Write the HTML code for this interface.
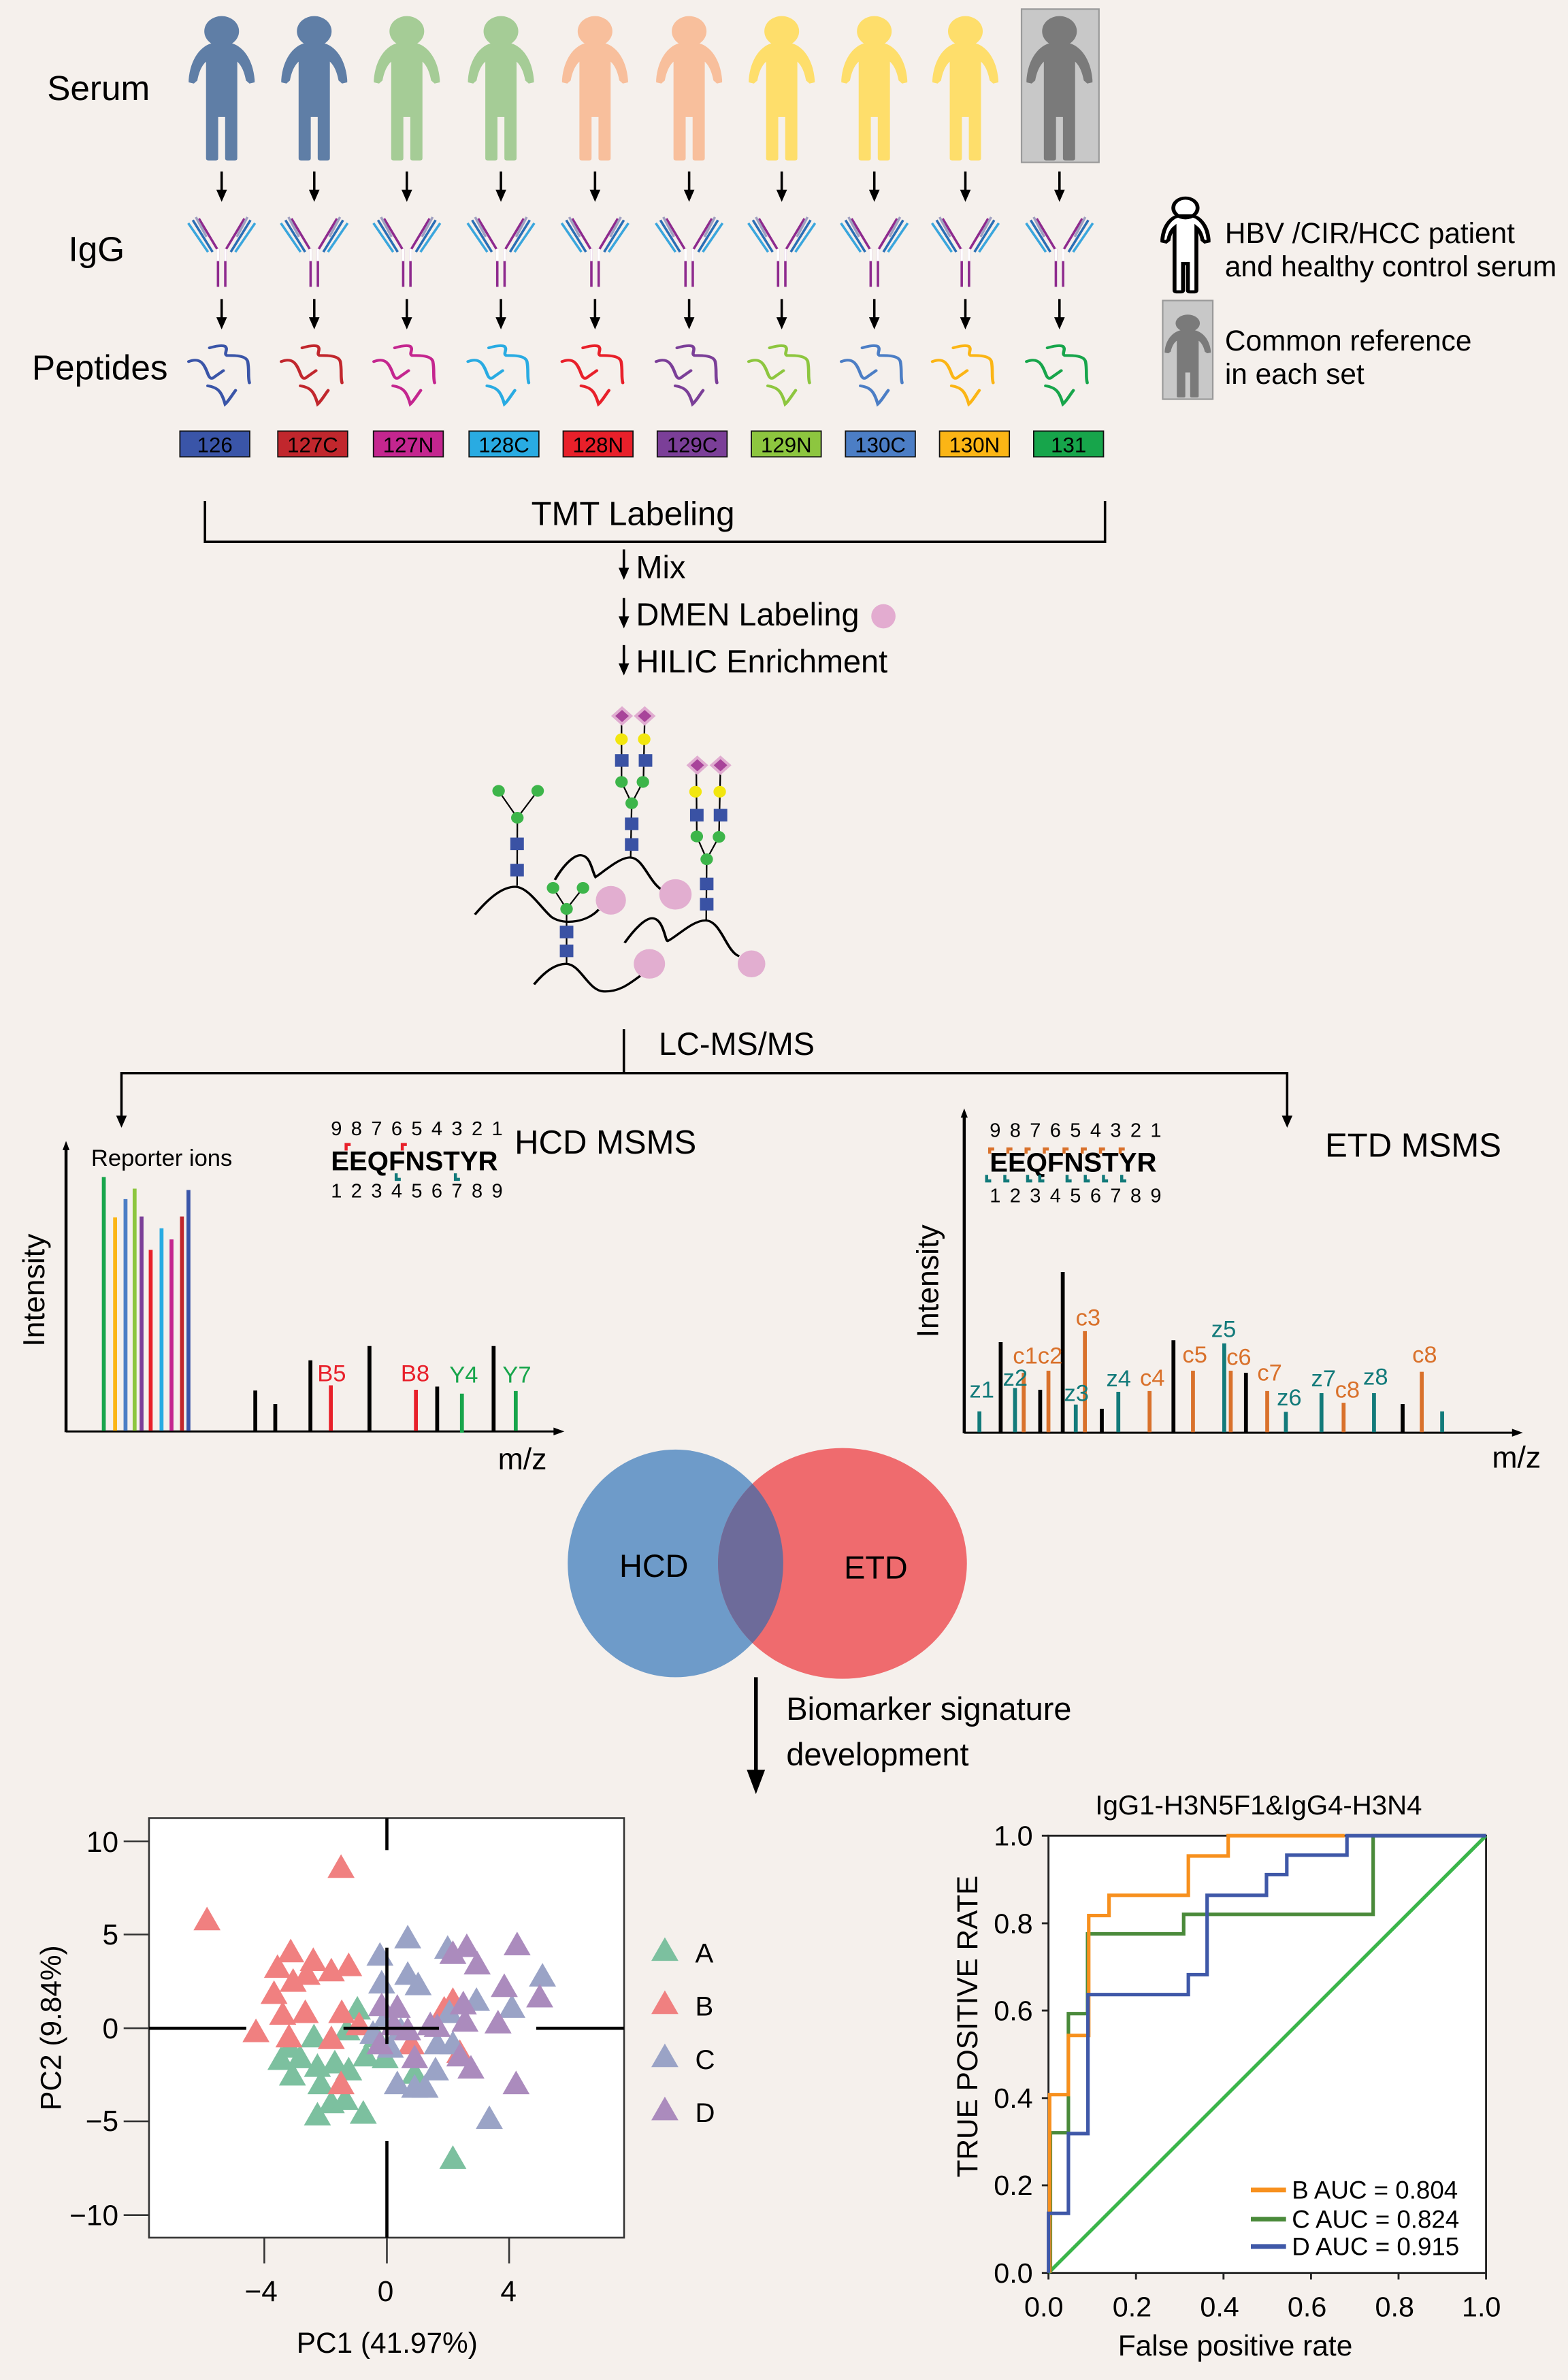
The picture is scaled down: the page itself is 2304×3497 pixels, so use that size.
<!DOCTYPE html>
<html><head><meta charset="utf-8"><style>
html,body{margin:0;padding:0;background:#f5f0ec;}
svg{display:block;}
text{font-family:"Liberation Sans Narrow","Liberation Sans",sans-serif;}
</style></head><body>
<svg width="2304" height="3497" viewBox="0 0 1033 1568" xmlns="http://www.w3.org/2000/svg" fill="#000">
<defs>
<path id="person" d="M-30,40 L30,40 C60,50 90,90 95,160 L95,168 L80,172 L70,162 C65,130 55,110 45,100 L45,418 Q45,425 38,425 L17,425 Q10,425 10,418 L10,282 L-10,282 L-10,418 Q-10,425 -17,425 L-38,425 Q-45,425 -45,418 L-45,100 C-55,110 -65,130 -70,162 L-80,172 L-95,168 L-95,160 C-90,90 -60,50 -30,40 Z M0,-50 A50,50 0 1,1 0,50 A50,50 0 1,1 0,-50 Z"/>
<g id="pep" fill="none" stroke-width="9" stroke-linecap="round">
<path d="M-95,-40 C-60,-55 -50,-30 -40,0 C-35,15 -30,20 -20,10 L5,-10"/>
<path d="M-35,-85 C-20,-90 0,-95 10,-90 C20,-80 5,-65 15,-60 C40,-60 70,-60 75,-40 C80,-10 75,10 80,30"/>
<path d="M-40,40 C-10,45 0,60 10,100 C20,90 30,70 40,55"/>
</g>
<g id="arr"><line x1="0" y1="0" x2="0" y2="14" stroke="#000" stroke-width="1.6"/><polygon points="-3.5,12 3.5,12 0,20" fill="#000"/></g>
<g id="igg" fill="none" stroke-width="1.6">
<line x1="-2.4" y1="164" x2="-2.4" y2="189" stroke="#8e2a8e"/><line x1="2.4" y1="164" x2="2.4" y2="189" stroke="#8e2a8e"/>
<line x1="-2.4" y1="164" x2="-2.4" y2="172" stroke="#fff"/><line x1="2.4" y1="164" x2="2.4" y2="172" stroke="#fff"/>
<line x1="-3" y1="164" x2="-15" y2="144" stroke="#8e2a8e"/><line x1="-6" y1="166" x2="-19" y2="145" stroke="#2a6eb5"/><line x1="-9" y1="166" x2="-22" y2="147" stroke="#3aa6dd"/><line x1="-10" y1="156" x2="-17" y2="143" stroke="#a0a0c0"/>
<line x1="3" y1="164" x2="15" y2="144" stroke="#8e2a8e"/><line x1="6" y1="166" x2="19" y2="145" stroke="#2a6eb5"/><line x1="9" y1="166" x2="22" y2="147" stroke="#3aa6dd"/><line x1="10" y1="156" x2="17" y2="143" stroke="#a0a0c0"/>
</g>
<polygon id="tri" points="0,-38 -39,30 39,30"/>
</defs>
<rect width="1033" height="1568" fill="#f5f0ec"/>

<text x="31" y="66" font-size="23">Serum</text>
<text x="45" y="172" font-size="23">IgG</text>
<text x="21" y="250" font-size="23">Peptides</text>

<rect x="673" y="6" width="51" height="101" fill="#c8c8c8" stroke="#9a9a9a" stroke-width="1"/>
<g transform="translate(146,20.6) scale(0.2288,0.2002)"><use href="#person" fill="#5f7ea6"/></g>
<g transform="translate(207,20.6) scale(0.2288,0.2002)"><use href="#person" fill="#5f7ea6"/></g>
<g transform="translate(268,20.6) scale(0.2288,0.2002)"><use href="#person" fill="#a5cc96"/></g>
<g transform="translate(330,20.6) scale(0.2288,0.2002)"><use href="#person" fill="#a5cc96"/></g>
<g transform="translate(392,20.6) scale(0.2288,0.2002)"><use href="#person" fill="#f8bf9c"/></g>
<g transform="translate(454,20.6) scale(0.2288,0.2002)"><use href="#person" fill="#f8bf9c"/></g>
<g transform="translate(515,20.6) scale(0.2288,0.2002)"><use href="#person" fill="#fede6b"/></g>
<g transform="translate(576,20.6) scale(0.2288,0.2002)"><use href="#person" fill="#fede6b"/></g>
<g transform="translate(636,20.6) scale(0.2288,0.2002)"><use href="#person" fill="#fede6b"/></g>
<g transform="translate(698,20.6) scale(0.2288,0.2002)"><use href="#person" fill="#7a7a7a"/></g>

<g>
<use href="#arr" x="146" y="113"/><use href="#arr" x="207" y="113"/><use href="#arr" x="268" y="113"/><use href="#arr" x="330" y="113"/><use href="#arr" x="392" y="113"/><use href="#arr" x="454" y="113"/><use href="#arr" x="515" y="113"/><use href="#arr" x="576" y="113"/><use href="#arr" x="636" y="113"/><use href="#arr" x="698" y="113"/>
<use href="#arr" x="146" y="197"/><use href="#arr" x="207" y="197"/><use href="#arr" x="268" y="197"/><use href="#arr" x="330" y="197"/><use href="#arr" x="392" y="197"/><use href="#arr" x="454" y="197"/><use href="#arr" x="515" y="197"/><use href="#arr" x="576" y="197"/><use href="#arr" x="636" y="197"/><use href="#arr" x="698" y="197"/>
</g>
<g>
<use href="#igg" x="146"/><use href="#igg" x="207"/><use href="#igg" x="268"/><use href="#igg" x="330"/><use href="#igg" x="392"/><use href="#igg" x="454"/><use href="#igg" x="515"/><use href="#igg" x="576"/><use href="#igg" x="636"/><use href="#igg" x="698"/>
</g>
<g transform="translate(146,246.2) scale(0.2288,0.2002)"><use href="#pep" stroke="#3a55a8"/></g>
<g transform="translate(207,246.2) scale(0.2288,0.2002)"><use href="#pep" stroke="#c1272d"/></g>
<g transform="translate(268,246.2) scale(0.2288,0.2002)"><use href="#pep" stroke="#c4268f"/></g>
<g transform="translate(330,246.2) scale(0.2288,0.2002)"><use href="#pep" stroke="#29abe2"/></g>
<g transform="translate(392,246.2) scale(0.2288,0.2002)"><use href="#pep" stroke="#e8202a"/></g>
<g transform="translate(454,246.2) scale(0.2288,0.2002)"><use href="#pep" stroke="#7b3f98"/></g>
<g transform="translate(515,246.2) scale(0.2288,0.2002)"><use href="#pep" stroke="#8dc63f"/></g>
<g transform="translate(576,246.2) scale(0.2288,0.2002)"><use href="#pep" stroke="#4c7ec5"/></g>
<g transform="translate(636,246.2) scale(0.2288,0.2002)"><use href="#pep" stroke="#fbb515"/></g>
<g transform="translate(698,246.2) scale(0.2288,0.2002)"><use href="#pep" stroke="#17a54b"/></g>

<g stroke="#111" stroke-width="0.8">
<rect x="118.5" y="284" width="46" height="17" fill="#3a55a8"/>
<rect x="183" y="284" width="46" height="17" fill="#c1272d"/>
<rect x="246" y="284" width="46" height="17" fill="#c4268f"/>
<rect x="309" y="284" width="46" height="17" fill="#29abe2"/>
<rect x="371" y="284" width="46" height="17" fill="#e8202a"/>
<rect x="433" y="284" width="46" height="17" fill="#7b3f98"/>
<rect x="495" y="284" width="46" height="17" fill="#8dc63f"/>
<rect x="557" y="284" width="46" height="17" fill="#4c7ec5"/>
<rect x="619" y="284" width="46" height="17" fill="#fbb515"/>
<rect x="681" y="284" width="46" height="17" fill="#17a54b"/>
</g>
<g font-size="14" text-anchor="middle">
<text x="141.5" y="298">126</text><text x="206" y="298">127C</text><text x="269" y="298">127N</text><text x="332" y="298">128C</text><text x="394" y="298">128N</text><text x="456" y="298">129C</text><text x="518" y="298">129N</text><text x="580" y="298">130C</text><text x="642" y="298">130N</text><text x="704" y="298">131</text>
</g>

<g transform="translate(781,137) scale(0.16,0.13)"><use href="#person" fill="#fff" stroke="#000" stroke-width="16"/></g>
<text x="807" y="160" font-size="19">HBV /CIR/HCC patient</text>
<text x="807" y="182" font-size="19">and healthy control serum</text>
<rect x="766" y="198" width="33" height="65" fill="#c8c8c8" stroke="#9a9a9a"/>
<g transform="translate(782.5,213) scale(0.16,0.115)"><use href="#person" fill="#7a7a7a"/></g>
<text x="807" y="231" font-size="19">Common reference</text>
<text x="807" y="253" font-size="19">in each set</text>

<polyline points="135,330 135,357 728,357 728,330" fill="none" stroke="#000" stroke-width="1.6"/>
<text x="417" y="346" font-size="22" text-anchor="middle">TMT Labeling</text>
<use href="#arr" x="411" y="362"/><use href="#arr" x="411" y="394"/><use href="#arr" x="411" y="425"/>
<text x="419" y="381" font-size="21">Mix</text>
<text x="419" y="412" font-size="21">DMEN Labeling</text>
<circle cx="582" cy="406" r="8" fill="#e3acd0"/>
<text x="419" y="443" font-size="21">HILIC Enrichment</text>

<g transform="translate(291.4,448.4) scale(0.1716,0.1430)">
<g fill="none" stroke="#000" stroke-width="10">
<path d="M125,1078 C180,1000 230,950 280,950 C330,950 380,1050 420,1090 C470,1130 560,1110 600,1055"/>
<path d="M432,918 C470,840 510,800 535,805 C570,810 575,880 588,905 C620,880 680,815 720,815 C770,815 790,920 840,962"/>
<path d="M352,1400 C400,1330 440,1305 475,1305 C530,1305 560,1430 620,1432 C680,1435 720,1395 760,1360"/>
<path d="M700,1208 C740,1140 780,1095 805,1095 C850,1095 855,1200 865,1200 C900,1180 960,1105 1010,1105 C1070,1105 1090,1250 1140,1270"/>
<g stroke-width="6">
<line x1="287" y1="945" x2="288" y2="632"/><line x1="288" y1="632" x2="216" y2="508"/><line x1="288" y1="632" x2="366" y2="508"/>
<line x1="723" y1="815" x2="727" y2="565"/><line x1="727" y1="565" x2="688" y2="467"/><line x1="727" y1="565" x2="770" y2="467"/><line x1="688" y1="467" x2="688" y2="163"/><line x1="772" y1="467" x2="777" y2="163"/>
<line x1="477" y1="1305" x2="477" y2="1052"/><line x1="477" y1="1052" x2="425" y2="955"/><line x1="477" y1="1052" x2="540" y2="955"/>
<line x1="1013" y1="1105" x2="1015" y2="823"/><line x1="1015" y1="823" x2="977" y2="718"/><line x1="1015" y1="823" x2="1062" y2="720"/><line x1="977" y1="718" x2="975" y2="390"/><line x1="1062" y1="720" x2="1068" y2="390"/>
</g></g>
<g fill="#e2aed0">
<ellipse cx="647" cy="1012" rx="58" ry="66"/><ellipse cx="895" cy="985" rx="62" ry="70"/><ellipse cx="795" cy="1305" rx="60" ry="68"/><ellipse cx="1187" cy="1305" rx="53" ry="62"/>
</g>
<g fill="#3a52a4">
<rect x="261" y="723" width="52" height="58"/><rect x="261" y="844" width="52" height="58"/>
<rect x="701" y="631" width="52" height="58"/><rect x="701" y="726" width="52" height="58"/>
<rect x="663" y="339" width="52" height="58"/><rect x="754" y="339" width="52" height="58"/>
<rect x="451" y="1129" width="52" height="58"/><rect x="451" y="1216" width="52" height="58"/>
<rect x="989" y="908" width="52" height="58"/><rect x="989" y="1001" width="52" height="58"/>
<rect x="951" y="591" width="52" height="58"/><rect x="1042" y="591" width="52" height="58"/>
</g>
<g fill="#3db54a">
<ellipse cx="216" cy="508" rx="24" ry="27"/><ellipse cx="366" cy="508" rx="24" ry="27"/><ellipse cx="288" cy="632" rx="24" ry="27"/>
<ellipse cx="688" cy="467" rx="24" ry="27"/><ellipse cx="770" cy="467" rx="24" ry="27"/><ellipse cx="727" cy="565" rx="24" ry="27"/>
<ellipse cx="425" cy="955" rx="24" ry="27"/><ellipse cx="540" cy="955" rx="24" ry="27"/><ellipse cx="477" cy="1052" rx="24" ry="27"/>
<ellipse cx="977" cy="718" rx="24" ry="27"/><ellipse cx="1062" cy="720" rx="24" ry="27"/><ellipse cx="1015" cy="823" rx="24" ry="27"/>
</g>
<g fill="#f2e60e">
<ellipse cx="688" cy="270" rx="24" ry="27"/><ellipse cx="775" cy="270" rx="24" ry="27"/><ellipse cx="972" cy="512" rx="24" ry="27"/><ellipse cx="1065" cy="512" rx="24" ry="27"/>
</g>
<g>
<polygon points="690,118 732,163 690,208 648,163" fill="#e0acd0"/><polygon points="690,135 716,163 690,191 664,163" fill="#a8449a"/>
<polygon points="777,118 819,163 777,208 735,163" fill="#e0acd0"/><polygon points="777,135 803,163 777,191 751,163" fill="#a8449a"/>
<polygon points="979,345 1021,390 979,435 937,390" fill="#e0acd0"/><polygon points="979,362 1005,390 979,418 953,390" fill="#a8449a"/>
<polygon points="1068,345 1110,390 1068,435 1026,390" fill="#e0acd0"/><polygon points="1068,362 1094,390 1068,418 1042,390" fill="#a8449a"/>
</g>
</g>

<line x1="411" y1="678" x2="411" y2="707" stroke="#000" stroke-width="1.6"/>
<text x="434" y="695" font-size="21">LC-MS/MS</text>
<polyline points="80,740 80,707 848,707 848,740" fill="none" stroke="#000" stroke-width="1.6"/>
<polygon points="76.5,735 83.5,735 80,743" fill="#000"/><polygon points="844.5,735 851.5,735 848,743" fill="#000"/>

<g transform="translate(0,717.4) scale(0.2860,0.1716)">
<line x1="152" y1="1318" x2="152" y2="215" stroke="#000" stroke-width="7"/>
<polygon points="144,235 160,235 152,200" fill="#000"/>
<line x1="152" y1="1315" x2="1285" y2="1315" stroke="#000" stroke-width="8"/>
<polygon points="1275,1300 1275,1330 1300,1315" fill="#000"/>
<g stroke-width="9">
<line x1="239" y1="1312" x2="239" y2="338" stroke="#17a54b"/>
<line x1="265" y1="1312" x2="265" y2="493" stroke="#fbb515"/>
<line x1="289" y1="1312" x2="289" y2="423" stroke="#4c7ec5"/>
<line x1="310" y1="1312" x2="310" y2="383" stroke="#8dc63f"/>
<line x1="326" y1="1312" x2="326" y2="490" stroke="#7b3f98"/>
<line x1="347" y1="1312" x2="347" y2="618" stroke="#e8202a"/>
<line x1="372" y1="1312" x2="372" y2="535" stroke="#29abe2"/>
<line x1="395" y1="1312" x2="395" y2="578" stroke="#c4268f"/>
<line x1="419" y1="1312" x2="419" y2="490" stroke="#c1272d"/>
<line x1="434" y1="1312" x2="434" y2="388" stroke="#3a55a8"/>
<g stroke="#000"><line x1="588" y1="1312" x2="588" y2="1158"/><line x1="634" y1="1312" x2="634" y2="1210"/><line x1="715" y1="1312" x2="715" y2="1042"/><line x1="851" y1="1312" x2="851" y2="987"/><line x1="1007" y1="1312" x2="1007" y2="1143"/><line x1="1137" y1="1312" x2="1137" y2="987"/></g>
<line x1="762" y1="1312" x2="762" y2="1138" stroke="#e8202a"/><line x1="958" y1="1312" x2="958" y2="1155" stroke="#e8202a"/>
<line x1="1064" y1="1320" x2="1064" y2="1170" stroke="#17a54b"/><line x1="1188" y1="1312" x2="1188" y2="1160" stroke="#17a54b"/>
</g>
</g>
<text x="60" y="768" font-size="15.5">Reporter ions</text>
<text transform="translate(29,850) rotate(-90)" font-size="20" text-anchor="middle">Intensity</text>
<text x="328" y="968" font-size="20">m/z</text>
<g font-size="15.5"><text x="209" y="910" fill="#e8202a">B5</text><text x="264" y="910" fill="#e8202a">B8</text><text x="296" y="911" fill="#17a54b">Y4</text><text x="331" y="911" fill="#17a54b">Y7</text></g>
<text x="218" y="748" font-size="13" letter-spacing="1.2">9 8 7 6 5 4 3 2 1</text>
<text x="218" y="771" font-size="18" font-weight="bold">EEQFNSTYR</text>
<text x="218" y="789" font-size="13" letter-spacing="1.2">1 2 3 4 5 6 7 8 9</text>
<g stroke-width="2" fill="none"><path d="M228,758 v-4 h3" stroke="#e8202a"/><path d="M265,758 v-4 h3" stroke="#e8202a"/><path d="M261,773 v4 h3" stroke="#127a7a"/><path d="M300,773 v4 h3" stroke="#127a7a"/></g>
<text x="339" y="760" font-size="22">HCD MSMS</text>

<g transform="translate(582.9,717.4) scale(0.2860,0.1716)">
<line x1="183" y1="1322" x2="183" y2="95" stroke="#000" stroke-width="7"/>
<polygon points="175,110 191,110 183,75" fill="#000"/>
<line x1="183" y1="1320" x2="1450" y2="1320" stroke="#000" stroke-width="8"/>
<polygon points="1445,1305 1445,1335 1470,1320" fill="#000"/>
<g stroke-width="9">
<line x1="218" y1="1318" x2="218" y2="1238" stroke="#127a7a"/>
<line x1="267" y1="1318" x2="267" y2="972" stroke="#000"/>
<line x1="300" y1="1318" x2="300" y2="1148" stroke="#127a7a"/>
<line x1="320" y1="1318" x2="320" y2="1090" stroke="#d9712b"/>
<line x1="358" y1="1318" x2="358" y2="1155" stroke="#000"/>
<line x1="377" y1="1318" x2="377" y2="1082" stroke="#d9712b"/>
<line x1="410" y1="1318" x2="410" y2="703" stroke="#000"/>
<line x1="440" y1="1318" x2="440" y2="1212" stroke="#127a7a"/>
<line x1="461" y1="1318" x2="461" y2="930" stroke="#d9712b"/>
<line x1="500" y1="1318" x2="500" y2="1228" stroke="#000"/>
<line x1="538" y1="1318" x2="538" y2="1163" stroke="#127a7a"/>
<line x1="610" y1="1318" x2="610" y2="1160" stroke="#d9712b"/>
<line x1="665" y1="1318" x2="665" y2="965" stroke="#000"/>
<line x1="710" y1="1318" x2="710" y2="1082" stroke="#d9712b"/>
<line x1="782" y1="1318" x2="782" y2="977" stroke="#127a7a"/>
<line x1="797" y1="1318" x2="797" y2="1082" stroke="#d9712b"/>
<line x1="832" y1="1318" x2="832" y2="1090" stroke="#000"/>
<line x1="881" y1="1318" x2="881" y2="1160" stroke="#d9712b"/>
<line x1="924" y1="1318" x2="924" y2="1240" stroke="#127a7a"/>
<line x1="1006" y1="1318" x2="1006" y2="1168" stroke="#127a7a"/>
<line x1="1057" y1="1318" x2="1057" y2="1205" stroke="#d9712b"/>
<line x1="1127" y1="1318" x2="1127" y2="1168" stroke="#127a7a"/>
<line x1="1193" y1="1318" x2="1193" y2="1210" stroke="#000"/>
<line x1="1237" y1="1318" x2="1237" y2="1086" stroke="#d9712b"/>
<line x1="1284" y1="1318" x2="1284" y2="1238" stroke="#127a7a"/>
</g>
</g>
<g font-size="15.5">
<text x="638.7" y="920.7" fill="#127a7a">z1</text>
<text x="660.7" y="913" fill="#127a7a">z2</text>
<text x="667.3" y="898.4" fill="#d9712b">c1c2</text>
<text x="708.7" y="873.2" fill="#d9712b">c3</text>
<text x="701" y="923" fill="#127a7a">z3</text>
<text x="728.8" y="913.3" fill="#127a7a">z4</text>
<text x="751" y="913" fill="#d9712b">c4</text>
<text x="779" y="897.6" fill="#d9712b">c5</text>
<text x="798" y="880.8" fill="#127a7a">z5</text>
<text x="808" y="899.3" fill="#d9712b">c6</text>
<text x="828.3" y="909.6" fill="#d9712b">c7</text>
<text x="841.2" y="926" fill="#127a7a">z6</text>
<text x="863.8" y="913.4" fill="#127a7a">z7</text>
<text x="879.5" y="920.7" fill="#d9712b">c8</text>
<text x="898.1" y="912.2" fill="#127a7a">z8</text>
<text x="930.4" y="897.6" fill="#d9712b">c8</text>
</g>
<text x="652" y="749" font-size="13" letter-spacing="1.2">9 8 7 6 5 4 3 2 1</text>
<text x="652" y="772" font-size="18" font-weight="bold">EEQFNSTYR</text>
<text x="652" y="792" font-size="13" letter-spacing="1.2">1 2 3 4 5 6 7 8 9</text>
<g stroke-width="2" fill="none" stroke="#d9712b"><path d="M652,760 v-3 h3"/><path d="M664,760 v-3 h3"/><path d="M676,760 v-3 h3"/><path d="M688,760 v-3 h3"/><path d="M701,760 v-3 h3"/><path d="M713,760 v-3 h3"/><path d="M725,760 v-3 h3"/><path d="M738,760 v-3 h3"/></g>
<g stroke-width="2" fill="none" stroke="#127a7a"><path d="M650,774 v4 h3"/><path d="M662,774 v4 h3"/><path d="M677,774 v4 h3"/><path d="M685,774 v4 h3"/><path d="M703,774 v4 h3"/><path d="M715,774 v4 h3"/><path d="M727,774 v4 h3"/><path d="M739,774 v4 h3"/></g>
<text x="873" y="762" font-size="22">ETD MSMS</text>
<text transform="translate(618,844) rotate(-90)" font-size="20" text-anchor="middle">Intensity</text>
<text x="983" y="967" font-size="20">m/z</text>

<defs><clipPath id="cl"><ellipse cx="445" cy="1030" rx="71" ry="75"/></clipPath></defs>
<ellipse cx="445" cy="1030" rx="71" ry="75" fill="#6e9bc9"/>
<ellipse cx="555" cy="1030" rx="82" ry="76" fill="#ef6b6e"/>
<ellipse cx="555" cy="1030" rx="82" ry="76" fill="#6d6b9a" clip-path="url(#cl)"/>
<text x="408" y="1039" font-size="21">HCD</text>
<text x="556" y="1040" font-size="21">ETD</text>
<line x1="498" y1="1105" x2="498" y2="1168" stroke="#000" stroke-width="2.5"/>
<polygon points="492,1166 504,1166 498,1182" fill="#000"/>
<text x="518" y="1133" font-size="21">Biomarker signature</text>
<text x="518" y="1163" font-size="21">development</text>

<g transform="translate(67.25,1165.8) scale(0.2288)">
<rect x="135" y="140" width="1368" height="1208" fill="#fff" stroke="#333" stroke-width="5"/>
<g stroke="#333" stroke-width="5">
<line x1="62" y1="207" x2="135" y2="207"/><line x1="62" y1="475" x2="135" y2="475"/><line x1="62" y1="745" x2="135" y2="745"/><line x1="62" y1="1013" x2="135" y2="1013"/><line x1="62" y1="1283" x2="135" y2="1283"/>
<line x1="467" y1="1348" x2="467" y2="1422"/><line x1="820" y1="1348" x2="820" y2="1422"/><line x1="1172" y1="1348" x2="1172" y2="1422"/>
</g>
<g fill="#7cc09f">
<use href="#tri" x="735" y="690"/><use href="#tri" x="705" y="750"/><use href="#tri" x="610" y="770"/><use href="#tri" x="540" y="800"/><use href="#tri" x="515" y="835"/><use href="#tri" x="570" y="830"/><use href="#tri" x="620" y="855"/><use href="#tri" x="670" y="845"/><use href="#tri" x="710" y="865"/><use href="#tri" x="548" y="880"/><use href="#tri" x="630" y="905"/><use href="#tri" x="660" y="960"/><use href="#tri" x="700" y="950"/><use href="#tri" x="620" y="995"/><use href="#tri" x="752" y="990"/><use href="#tri" x="760" y="825"/><use href="#tri" x="815" y="830"/><use href="#tri" x="900" y="875"/><use href="#tri" x="1010" y="1120"/><use href="#tri" x="790" y="770"/>
</g>
<g fill="#f08080">
<use href="#tri" x="302" y="433"/><use href="#tri" x="688" y="282"/><use href="#tri" x="543" y="525"/><use href="#tri" x="608" y="550"/><use href="#tri" x="505" y="570"/><use href="#tri" x="660" y="580"/><use href="#tri" x="710" y="565"/><use href="#tri" x="550" y="610"/><use href="#tri" x="590" y="590"/><use href="#tri" x="495" y="645"/><use href="#tri" x="520" y="705"/><use href="#tri" x="585" y="700"/><use href="#tri" x="690" y="700"/><use href="#tri" x="740" y="735"/><use href="#tri" x="443" y="755"/><use href="#tri" x="538" y="770"/><use href="#tri" x="660" y="775"/><use href="#tri" x="688" y="905"/><use href="#tri" x="1010" y="665"/><use href="#tri" x="890" y="790"/><use href="#tri" x="1030" y="815"/><use href="#tri" x="985" y="690"/>
</g>
<g fill="#9aa3c6">
<use href="#tri" x="880" y="485"/><use href="#tri" x="800" y="535"/><use href="#tri" x="995" y="515"/><use href="#tri" x="805" y="615"/><use href="#tri" x="880" y="590"/><use href="#tri" x="910" y="620"/><use href="#tri" x="1078" y="665"/><use href="#tri" x="1180" y="685"/><use href="#tri" x="1268" y="595"/><use href="#tri" x="1000" y="700"/><use href="#tri" x="780" y="760"/><use href="#tri" x="830" y="800"/><use href="#tri" x="965" y="790"/><use href="#tri" x="1010" y="790"/><use href="#tri" x="960" y="865"/><use href="#tri" x="850" y="905"/><use href="#tri" x="900" y="915"/><use href="#tri" x="930" y="915"/><use href="#tri" x="1115" y="1005"/><use href="#tri" x="820" y="710"/><use href="#tri" x="860" y="750"/>
</g>
<g fill="#ab8bbd">
<use href="#tri" x="1195" y="505"/><use href="#tri" x="1010" y="530"/><use href="#tri" x="1050" y="510"/><use href="#tri" x="1080" y="560"/><use href="#tri" x="1158" y="625"/><use href="#tri" x="1260" y="655"/><use href="#tri" x="1040" y="675"/><use href="#tri" x="1045" y="725"/><use href="#tri" x="1140" y="730"/><use href="#tri" x="805" y="680"/><use href="#tri" x="850" y="685"/><use href="#tri" x="880" y="750"/><use href="#tri" x="945" y="735"/><use href="#tri" x="965" y="740"/><use href="#tri" x="800" y="790"/><use href="#tri" x="900" y="830"/><use href="#tri" x="1030" y="825"/><use href="#tri" x="1062" y="860"/><use href="#tri" x="1192" y="905"/><use href="#tri" x="840" y="735"/>
</g>
<g stroke="#000" stroke-width="9">
<line x1="135" y1="745" x2="415" y2="745"/><line x1="695" y1="745" x2="970" y2="745"/><line x1="1250" y1="745" x2="1503" y2="745"/>
<line x1="820" y1="140" x2="820" y2="232"/><line x1="820" y1="513" x2="820" y2="790"/><line x1="820" y1="1070" x2="820" y2="1348"/>
</g>
</g>
<g font-size="19" text-anchor="end">
<text x="78" y="1220">10</text><text x="78" y="1281">5</text><text x="78" y="1343">0</text><text x="78" y="1404">−5</text><text x="78" y="1466">−10</text>
</g>
<g font-size="19" text-anchor="middle">
<text x="172" y="1516">−4</text><text x="254" y="1516">0</text><text x="335" y="1516">4</text>
</g>
<text x="255" y="1550" font-size="19" text-anchor="middle">PC1 (41.97%)</text>
<text transform="translate(40,1336) rotate(-90)" font-size="19" text-anchor="middle">PC2 (9.84%)</text>
<g transform="translate(438,1285) scale(0.2288)" fill="#7cc09f"><use href="#tri"/></g>
<g transform="translate(438,1320) scale(0.2288)" fill="#f08080"><use href="#tri"/></g>
<g transform="translate(438,1355) scale(0.2288)" fill="#9aa3c6"><use href="#tri"/></g>
<g transform="translate(438,1390) scale(0.2288)" fill="#ab8bbd"><use href="#tri"/></g>
<g font-size="18"><text x="458" y="1293">A</text><text x="458" y="1328">B</text><text x="458" y="1363">C</text><text x="458" y="1398">D</text></g>

<g transform="translate(605.3,1165.8) scale(0.2574,0.2565)">
<rect x="332" y="170" width="1120" height="1123" fill="#fff" stroke="#222" stroke-width="5"/>
<g stroke="#222" stroke-width="5">
<line x1="315" y1="170" x2="332" y2="170"/><line x1="315" y1="395" x2="332" y2="395"/><line x1="315" y1="619" x2="332" y2="619"/><line x1="315" y1="844" x2="332" y2="844"/><line x1="315" y1="1068" x2="332" y2="1068"/><line x1="315" y1="1293" x2="332" y2="1293"/>
<line x1="332" y1="1293" x2="332" y2="1310"/><line x1="556" y1="1293" x2="556" y2="1310"/><line x1="780" y1="1293" x2="780" y2="1310"/><line x1="1004" y1="1293" x2="1004" y2="1310"/><line x1="1228" y1="1293" x2="1228" y2="1310"/><line x1="1452" y1="1293" x2="1452" y2="1310"/>
</g>
<line x1="332" y1="1293" x2="1452" y2="170" stroke="#3ab54a" stroke-width="9"/>
<g fill="none" stroke-width="9">
<polyline stroke="#4a8a3a" points="337,1293 337,933 383,933 383,627 432,627 432,422 678,422 678,372 1163,372 1163,170 1452,170"/>
<polyline stroke="#f7901e" points="335,1293 335,835 383,835 383,683 435,683 435,375 487,375 487,323 690,323 690,222 792,222 792,170 1090,170"/>
<polyline stroke="#3f58a8" points="332,1293 332,1140 383,1140 383,935 433,935 433,578 690,578 690,527 738,527 738,323 890,323 890,270 942,270 942,220 1096,220 1096,170 1452,170"/>
<line x1="850" y1="1080" x2="940" y2="1080" stroke="#f7901e" stroke-width="12"/>
<line x1="850" y1="1155" x2="940" y2="1155" stroke="#4a8a3a" stroke-width="12"/>
<line x1="850" y1="1225" x2="940" y2="1225" stroke="#3f58a8" stroke-width="12"/>
</g>
<g font-size="64"><text x="955" y="1102">B AUC = 0.804</text><text x="955" y="1177">C AUC = 0.824</text><text x="955" y="1247">D AUC = 0.915</text></g>
<text x="870" y="115" font-size="70" text-anchor="middle">IgG1-H3N5F1&amp;IgG4-H3N4</text>
<g font-size="72" text-anchor="end"><text x="292" y="195">1.0</text><text x="292" y="420">0.8</text><text x="292" y="644">0.6</text><text x="292" y="869">0.4</text><text x="292" y="1093">0.2</text><text x="292" y="1318">0.0</text></g>
<g font-size="72" text-anchor="middle"><text x="320" y="1405">0.0</text><text x="546" y="1405">0.2</text><text x="770" y="1405">0.4</text><text x="994" y="1405">0.6</text><text x="1218" y="1405">0.8</text><text x="1440" y="1405">1.0</text></g>
<text x="810" y="1505" font-size="74" text-anchor="middle">False positive rate</text>
<text transform="translate(150,660) rotate(-90)" font-size="74" text-anchor="middle">TRUE POSITIVE RATE</text>
</g>
</svg>
</body></html>
